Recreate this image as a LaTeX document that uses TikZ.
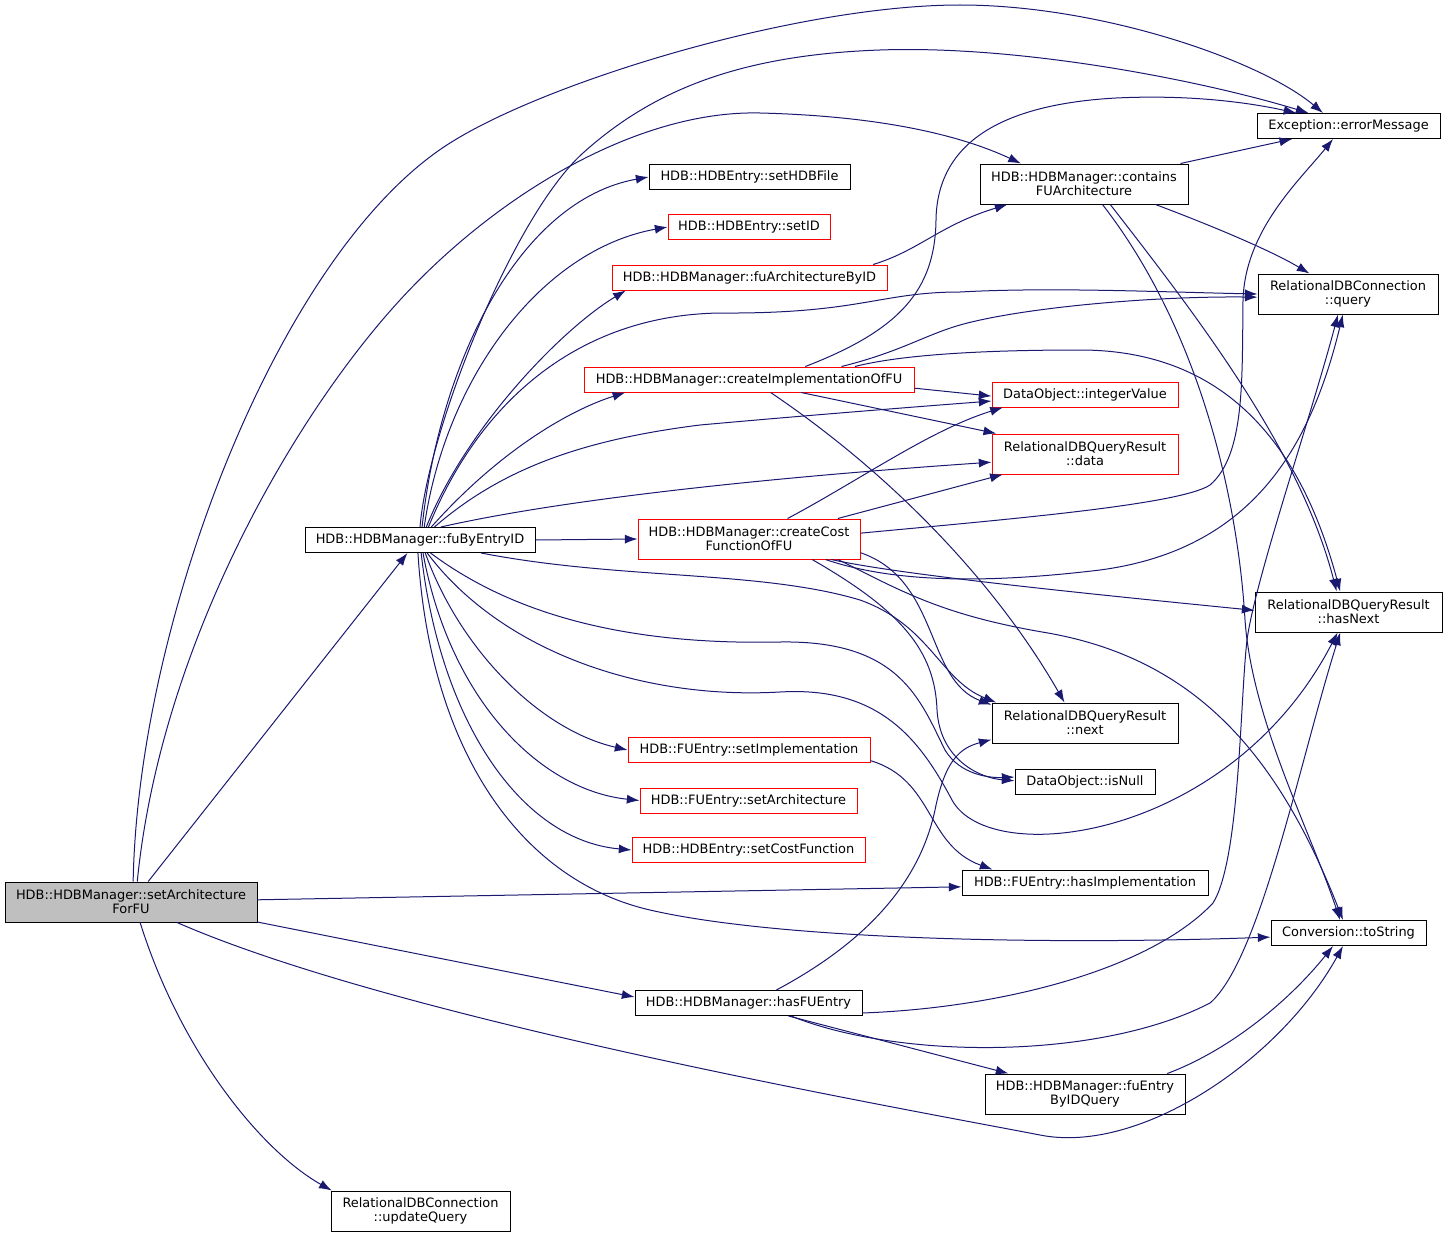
\documentclass[tikz,border=0pt]{standalone}
\usepackage{fontspec}
\setmainfont{DejaVu Sans}
\usepackage{tikz}
\usetikzlibrary{shapes,arrows.meta}
\definecolor{edgeblue}{RGB}{25,25,112}
\tikzstyle{fnblock} = [rectangle, draw=black, fill=white, line width=0.75pt, inner sep=0pt,
    align=center, minimum height=18.75pt, font=\fontsize{9.7}{10.5}\selectfont]
\tikzstyle{twoline} = [minimum height=30pt]
\tikzstyle{redblock} = [fnblock, draw=red]
\tikzstyle{line} = [draw=edgeblue, line width=0.75pt, -{Latex[length=9.5pt,width=6.8pt]}]

\begin{document}
\begin{tikzpicture}[x=0.75pt,y=-0.75pt]
    \useasboundingbox (0,0) rectangle (1448,1238);
    % callers and called functions, left to right
    \node [fnblock, twoline, fill=black!25, minimum width=189pt] (setarch) at (131,902) {HDB::HDBManager::setArchitecture\\ForFU};
    \node [fnblock, minimum width=172.5pt] (fubyentry) at (420,540) {HDB::HDBManager::fuByEntryID};
    \node [fnblock, twoline, minimum width=134.25pt] (updatequery) at (420.5,1211) {RelationalDBConnection\\::updateQuery};

    \node [fnblock, minimum width=150.75pt] (sethdbfile) at (749.5,177) {HDB::HDBEntry::setHDBFile};
    \node [redblock, minimum width=121.5pt] (setid) at (749,227) {HDB::HDBEntry::setID};
    \node [redblock, minimum width=206.25pt] (fuarchbyid) at (749.5,277.5) {HDB::HDBManager::fuArchitectureByID};
    \node [redblock, minimum width=247.5pt] (createimpl) at (749,379.5) {HDB::HDBManager::createImplementationOfFU};
    \node [redblock, twoline, minimum width=166.5pt] (createcost) at (749,539) {HDB::HDBManager::createCost\\FunctionOfFU};
    \node [redblock, minimum width=181.5pt] (setimpl) at (749,750) {HDB::FUEntry::setImplementation};
    \node [redblock, minimum width=162.75pt] (setarchitecture) at (748.5,800.5) {HDB::FUEntry::setArchitecture};
    \node [redblock, minimum width=174.75pt] (setcostfn) at (748.5,850) {HDB::HDBEntry::setCostFunction};
    \node [fnblock, minimum width=170.25pt] (hasfuentry) at (748.5,1003) {HDB::HDBManager::hasFUEntry};

    \node [fnblock, twoline, minimum width=156pt] (containsfu) at (1084,184) {HDB::HDBManager::contains\\FUArchitecture};
    \node [redblock, minimum width=139.5pt] (integervalue) at (1085,394.5) {DataObject::integerValue};
    \node [redblock, twoline, minimum width=139.5pt] (data) at (1085,454) {RelationalDBQueryResult\\::data};
    \node [fnblock, twoline, minimum width=139.5pt] (next) at (1085,723) {RelationalDBQueryResult\\::next};
    \node [fnblock, minimum width=105pt] (isnull) at (1085,782) {DataObject::isNull};
    \node [fnblock, minimum width=184.5pt] (hasimpl) at (1085,882.5) {HDB::FUEntry::hasImplementation};
    \node [fnblock, twoline, minimum width=150pt] (fuentryquery) at (1085,1094) {HDB::HDBManager::fuEntry\\ByIDQuery};

    \node [fnblock, minimum width=137.25pt] (errormsg) at (1348.5,126) {Exception::errorMessage};
    \node [fnblock, twoline, minimum width=135pt] (query) at (1348,294) {RelationalDBConnection\\::query};
    \node [fnblock, twoline, minimum width=140.25pt] (hasnext) at (1348.5,612) {RelationalDBQueryResult\\::hasNext};
    \node [fnblock, minimum width=116.25pt] (tostring) at (1348.5,933) {Conversion::toString};

    % Draw edges
    % setArchitectureForFU
    \path[line] (setarch.84) .. controls (138,620) and (280,250) .. (450,143) .. controls (550,80) and (800,5) .. (960,5) .. controls (1100,5) and (1260,60) .. (errormsg.153);
    \path[line] (setarch.73) .. controls (160,650) and (290,420) .. (400,300) .. controls (499,192) and (640,110) .. (760,113) .. controls (880,116) and (960,135) .. (containsfu.162);
    \path[line] (setarch.50) -- (fubyentry.-134);
    \path[line] (setarch.1) -- (hasimpl.182);
    \path[line] (setarch.-9) -- (hasfuentry.177);
    \path[line] (setarch.-24) .. controls (400,1020) and (900,1108) .. (1040,1135) .. controls (1140,1155) and (1280,1060) .. (tostring.-113);
    \path[line] (setarch.-66) .. controls (180,1050) and (260,1150) .. (updatequery.167);

    % fuByEntryID
    \path[line] (fubyentry.90) .. controls (428,430) and (513,216) .. (583,153) .. controls (653,90) and (740,55) .. (880,50) .. controls (1020,45) and (1200,80) .. (errormsg.162);
    \path[line] (fubyentry.81) .. controls (440,360) and (520,200) .. (sethdbfile.west);
    \path[line] (fubyentry.72) .. controls (445,380) and (540,250) .. (setid.west);
    \path[line] (fubyentry.64) .. controls (465,430) and (560,330) .. (fuarchbyid.186);
    \path[line] (fubyentry.57) .. controls (480,400) and (580,315) .. (720,313) .. controls (860,314) and (880,292) .. (960,292) .. controls (1050,287) and (1160,292) .. (query.west);
    \path[line] (fubyentry.49) .. controls (500,450) and (570,410) .. (createimpl.186);
    \path[line] (fubyentry.42) .. controls (500,470) and (580,440) .. (700,425) .. controls (800,416) and (900,408) .. (integervalue.184);
    \path[line] (fubyentry.32) .. controls (560,500) and (760,478) .. (data.185);
    \path[line] (fubyentry.east) -- (createcost.west);
    \path[line] (fubyentry.-12) .. controls (620,580) and (760,570) .. (860,600) .. controls (930,625) and (940,680) .. (next.167);
    \path[line] (fubyentry.-51) .. controls (520,620) and (640,645) .. (780,642) .. controls (900,640) and (920,700) .. (945,750) .. controls (960,775) and (990,778) .. (isnull.176);
    \path[line] (fubyentry.-61) .. controls (500,650) and (640,700) .. (780,692) .. controls (880,686) and (920,740) .. (952,800) .. controls (990,870) and (1230,840) .. (hasnext.-118);
    \path[line] (fubyentry.-68) .. controls (460,650) and (540,730) .. (setimpl.west);
    \path[line] (fubyentry.-77) .. controls (450,700) and (540,790) .. (setarchitecture.west);
    \path[line] (fubyentry.-85) .. controls (440,720) and (520,840) .. (setcostfn.west);
    \path[line] (fubyentry.-99) .. controls (430,750) and (520,880) .. (650,910) .. controls (780,940) and (1050,945) .. (tostring.183);

    % fuArchitectureByID, containsFUArchitecture
    \path[line] (fuarchbyid.6) .. controls (920,250) and (940,225) .. (containsfu.-165);
    \path[line] (containsfu.12) -- (errormsg.193);
    \path[line] (containsfu.-16) .. controls (1210,225) and (1270,250) .. (query.152);
    \path[line] (containsfu.-38) .. controls (1200,320) and (1300,450) .. (hasnext.120);
    \path[line] (containsfu.-48) .. controls (1200,330) and (1238,500) .. (1245,620) .. controls (1252,720) and (1310,830) .. (tostring.123);

    % createImplementationOfFU
    \path[line] (createimpl.13) .. controls (900,330) and (935,290) .. (936,220) .. controls (937,150) and (990,105) .. (1116,98) .. controls (1200,94) and (1260,105) .. (errormsg.166);
    \path[line] (createimpl.8) .. controls (900,352) and (925,335) .. (960,325) .. controls (1020,308) and (1150,296) .. (query.182);
    \path[line] (createimpl.7) .. controls (900,355) and (980,350) .. (1080,350) .. controls (1250,350) and (1310,480) .. (hasnext.112);
    \path[line] (createimpl.-3) -- (integervalue.181);
    \path[line] (createimpl.-14) -- (data.167);
    \path[line] (createimpl.-31) .. controls (900,480) and (1000,590) .. (next.135);

    % createCostFunctionOfFU
    \path[line] (createcost.28) .. controls (860,480) and (930,430) .. (integervalue.189);
    \path[line] (createcost.13) -- (data.194);
    \path[line] (createcost.3) .. controls (1000,520) and (1180,505) .. (1210,485) .. controls (1245,455) and (1242,380) .. (1243,300) .. controls (1245,230) and (1300,180) .. (errormsg.-140);
    \path[line] (createcost.-15) .. controls (900,585) and (1000,582) .. (1100,570) .. controls (1250,550) and (1310,450) .. (query.-104);
    \path[line] (createcost.-14) .. controls (900,575) and (1100,595) .. (hasnext.179);
    \path[line] (createcost.-7) .. controls (940,580) and (925,680) .. (next.169);
    \path[line] (createcost.-18) .. controls (900,610) and (935,650) .. (937,710) .. controls (940,760) and (980,778) .. (isnull.179);
    \path[line] (createcost.-13) .. controls (900,590) and (940,615) .. (1048,633) .. controls (1200,660) and (1280,760) .. (tostring.113);

    % setImplementation, hasFUEntry, fuEntryByIDQuery
    \path[line] (setimpl.-5) .. controls (935,780) and (925,845) .. (hasimpl.172);
    \path[line] (hasfuentry.25) .. controls (870,940) and (920,880) .. (935,810) .. controls (945,760) and (960,748) .. (next.190);
    \path[line] (hasfuentry.-5) .. controls (1000,1008) and (1150,970) .. (1213,903) .. controls (1240,860) and (1240,700) .. (1247,640) .. controls (1255,580) and (1310,420) .. (query.-116);
    \path[line] (hasfuentry.-17) .. controls (900,1060) and (1100,1060) .. (1210,1003) .. controls (1260,960) and (1300,760) .. (hasnext.-112);
    \path[line] (hasfuentry.-18) -- (fuentryquery.165);
    \path[line] (fuentryquery.14) .. controls (1230,1050) and (1290,1000) .. (tostring.-140);
\end{tikzpicture}
\end{document}
